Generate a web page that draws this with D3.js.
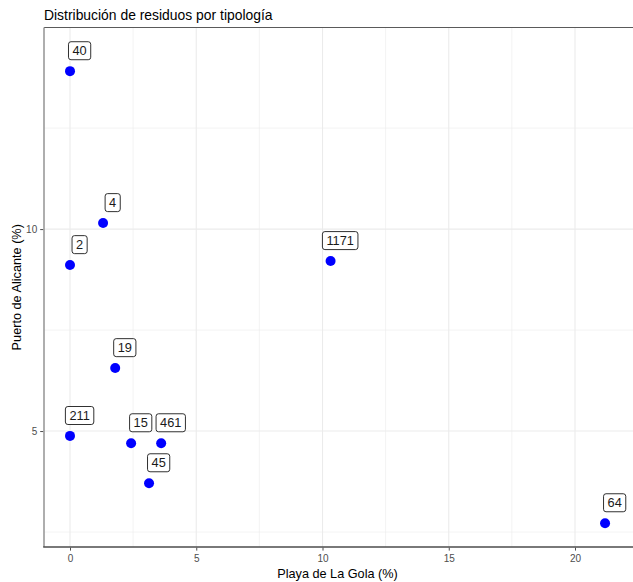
<!DOCTYPE html>
<html><head><meta charset="utf-8">
<script src="https://cdn.jsdelivr.net/npm/d3@7"></script>
<style>body{margin:0;background:#fff;} text{font-family:"Liberation Sans",Arial,sans-serif;}</style>
</head><body>
<svg id="c" width="633" height="582"></svg>
<script>
const labels = ["40","4","2","1171","19","211","15","461","45","64"];
const xVals = [0, 1.31, 0, 10.32, 1.79, 0, 2.42, 3.61, 3.13, 21.19];
const yVals = [13.91, 10.15, 9.11, 9.21, 6.56, 4.88, 4.70, 4.70, 3.71, 2.72];
const xTicks = [0, 5, 10, 15, 20];
const yTicks = [5, 10];
const xMinor = [2.5, 7.5, 12.5, 17.5];
const yMinor = [2.5, 7.5, 12.5];
const nudgeX = 0.38, nudgeY = 0.51;

const data = labels.map((l,i)=>({label:l, x:xVals[i], y:yVals[i]}));
const svg = d3.select("#c");
const L = 44, R = 633, T = 27.5, B = 547;
const x = d3.scaleLinear().domain([-1.03, 22.33]).range([L, L + 23.36*25.25]);
const y = d3.scaleLinear().domain([2.13, 14.99]).range([B, T]);

// grid
const g = svg.append("g");
g.selectAll(".vmin").data(xMinor).join("line").attr("x1",d=>x(d)).attr("x2",d=>x(d)).attr("y1",T).attr("y2",B).attr("stroke","#EBEBEB").attr("stroke-width",0.6);
g.selectAll(".hmin").data(yMinor).join("line").attr("y1",d=>y(d)).attr("y2",d=>y(d)).attr("x1",L).attr("x2",R).attr("stroke","#EBEBEB").attr("stroke-width",0.6);
g.selectAll(".vmaj").data(xTicks).join("line").attr("x1",d=>x(d)).attr("x2",d=>x(d)).attr("y1",T).attr("y2",B).attr("stroke","#EBEBEB").attr("stroke-width",1.1);
g.selectAll(".hmaj").data(yTicks).join("line").attr("y1",d=>y(d)).attr("y2",d=>y(d)).attr("x1",L).attr("x2",R).attr("stroke","#EBEBEB").attr("stroke-width",1.1);

// borders
svg.append("line").attr("x1",L).attr("x2",R).attr("y1",T).attr("y2",T).attr("stroke","#5a5a5a").attr("stroke-width",1.2);
svg.append("line").attr("x1",L).attr("x2",L).attr("y1",T).attr("y2",B).attr("stroke","#9a9a9a").attr("stroke-width",1.6);
svg.append("line").attr("x1",L-0.8).attr("x2",R).attr("y1",B).attr("y2",B).attr("stroke","#4d4d4d").attr("stroke-width",1.3);

// axes
const xAxis = d3.axisBottom(x).tickValues(xTicks).tickSize(3).tickPadding(4).tickFormat(d3.format("d"));
const xa = svg.append("g").attr("transform",`translate(0,${B+0.6})`).call(xAxis);
xa.select(".domain").remove();
xa.selectAll("line").attr("stroke","#4d4d4d");
xa.selectAll("text").attr("fill","#4D4D4D").style("font-size","10px");
const yAxis = d3.axisLeft(y).tickValues(yTicks).tickSize(3).tickPadding(3).tickFormat(d3.format("d"));
const ya = svg.append("g").attr("transform",`translate(${L-0.8},0)`).call(yAxis);
ya.select(".domain").remove();
ya.selectAll("line").attr("stroke","#4d4d4d");
ya.selectAll("text").attr("fill","#4D4D4D").style("font-size","10px");

// points
svg.selectAll(".pt").data(data).join("circle").attr("cx",d=>x(d.x)).attr("cy",d=>y(d.y)).attr("r",5).attr("fill","#0000FF");

// labels
const lg = svg.selectAll(".lab").data(data).join("g").attr("transform",d=>`translate(${x(d.x+nudgeX)},${y(d.y+nudgeY)})`);
lg.each(function(d){
  const gg = d3.select(this);
  const t = gg.append("text").text(d.label).attr("text-anchor","middle").attr("dy","0.37em").attr("fill","#1a1a1a").style("font-size","12.8px");
  const w = t.node().getComputedTextLength();
  gg.insert("rect","text").attr("x",-w/2-4).attr("y",-8.8).attr("width",w+8).attr("height",18).attr("rx",2.5).attr("fill","#fff").attr("stroke","#1a1a1a").attr("stroke-width",0.9);
});

// titles
svg.append("text").attr("x",L).attr("y",19.5).text("Distribución de residuos por tipología").style("font-size","13.9px").attr("fill","#000");
svg.append("text").attr("x",(L+R)/2 - 1).attr("y",578).attr("text-anchor","middle").text("Playa de La Gola (%)").style("font-size","12.7px").attr("fill","#000");
svg.append("text").attr("transform",`translate(21,${(T+B)/2}) rotate(-90)`).attr("text-anchor","middle").text("Puerto de Alicante (%)").style("font-size","12.7px").attr("fill","#000");
</script>
</body></html>
